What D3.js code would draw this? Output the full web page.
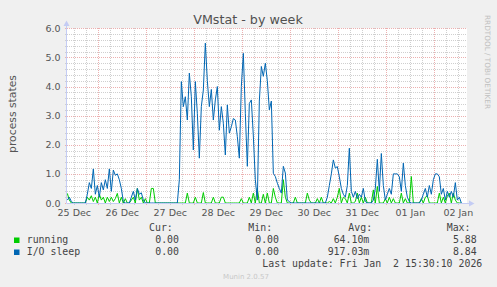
<!DOCTYPE html>
<html>
<head>
<meta charset="utf-8">
<script src="https://cdn.jsdelivr.net/npm/d3@7"></script>
<style>
  body { margin: 0; background: #f0f0f0; }
  text { font-family: "DejaVu Sans", sans-serif; }
  .mono { font-family: "DejaVu Sans Mono", monospace; white-space: pre; }
</style>
</head>
<body>
<div id="wrapper"></div>
<script>

// samples every hour, first one at Dec 25 08:30 (UTC)
const startTime = Date.UTC(2025, 11, 25, 8, 30)
const stepMs = 3600 * 1000

const running = [
  0.33,0.1,0,0,0,0,0,0,0,0,
  0.2,0.1,0.25,0.05,0.2,0,0.3,0.1,0.2,0,
  0.2,0.05,0.2,0.05,0.15,0.33,0,0.2,0,0.15,
  0,0,0.1,0.2,0,0.5,0.1,0.2,0,0.15,
  0,0,0.5,0.5,0,0,0,0,0,0,
  0,0,0,0,0,0,0,0,0,0,
  0.34,0,0,0,0.2,0,0,0,0.36,0,
  0,0,0,0.2,0,0,0,0.2,0.2,0,
  0,0,0,0,0,0,0,0.15,0,0,
  0,0.2,0,0.34,0,0.5,0,0,0.3,0,
  0.34,0,0,0.5,0.2,0,0,0,0.8,0.2,
  0,0,0,0,0.2,0,0,0,0,0,
  0.34,0.1,0,0,0,0.15,0,0.2,0,0,
  0,0.05,0,0.15,0,0.2,0.5,0,0.2,0.15,
  0,0.34,0,0,0.05,0.34,0,0.2,0,0.2,
  0,0,0,0.45,0,0.57,0,0,0,0.15,
  0,0.2,0,0.15,0,0,0,0.34,0,0.15,
  0,0,0.91,0,0,0,0,0.15,0,0.2,
  0.25,0,0,0,0,0,0.34,0,0.2,0,
  0.25,0.34,0,0.34,0.1,0,0,0
]

const ioSleep = [
  0.1,0.2,0.05,0,0,0,0,0,0,0,
  0.3,0.7,0.5,1.17,0.3,0.6,0.2,0.7,0.45,0.8,
  0.5,1.17,0.4,1.13,0.95,1.0,0.8,0.5,0.05,0,
  0,0,0.2,0.4,0.1,0.5,0.3,0.35,0.1,0,
  0,0,0,0,0,0,0,0,0,0,
  0,0,0,0,0,0,0.8,4.17,3.31,3.65,
  2.85,4.46,3.65,1.82,4.17,3.08,1.54,3.31,3.88,5.49,
  4.2,3.31,3.9,2.85,3.54,4.0,2.5,3.31,2.74,1.65,
  3.37,2.4,2.62,2.9,2.85,2.28,1.54,4.0,5.14,3.08,
  1.26,3.42,3.54,2.3,0.8,0.1,3.5,4.69,4.35,4.8,
  4.2,3.2,3.5,1.02,0.91,0.68,0.5,0.34,1.26,1.03,
  0.1,0.05,0,0,0,0,0,0,0,0,
  0,0,0,0,0,0,0,0,0,0,
  0.2,0.6,1.0,1.48,1.2,1.25,0.9,0.5,0.3,0.2,
  0.6,1.88,0.4,0.2,0.4,0.15,0.3,0.2,0.5,0.05,
  0,0,0,0.1,0.5,1.5,0.4,1.7,0.6,0.1,
  0.3,0.5,0.3,1.0,1.0,1.0,0.9,0.4,1.37,0.6,
  0.2,0.05,0,0,0,0,0,0.1,0.3,0.5,
  0.2,0.6,0.3,0.8,1.0,1.0,0.9,0.3,0.5,0.1,
  0.4,0.2,0.4,0.2,0.7,0.1,0.2,0
]

const yTicks = [0, 1, 2, 3, 4, 5, 6]
const seriesNames = ["running", "I/O sleep"]
const seriesColors = ["#00cc00", "#0066b3"]
const curValues = ["0.00", "0.00"]
const minValues = ["0.00", "0.00"]
const avgValues = ["64.10m", "917.03m"]
const maxValues = ["5.88", "8.84"]

function drawChart() {
    const dimensions = {
        width: 497,
        height: 287,
        left: 67,
        right: 467,
        top: 28.3,
        bottom: 203
    }

    const svg = d3.select("#wrapper")
        .append("svg")
        .attr("width", dimensions.width)
        .attr("height", dimensions.height)

    svg.append("rect")
        .attr("width", dimensions.width)
        .attr("height", dimensions.height)
        .attr("fill", "#f0f0f0")

    const xScale = d3.scaleUtc()
        .domain([new Date(Date.UTC(2025, 11, 25, 8, 20)), new Date(Date.UTC(2026, 0, 2, 16, 20))])
        .range([dimensions.left, dimensions.right])

    const yScale = d3.scaleLinear()
        .domain([0, 6])
        .range([dimensions.bottom, dimensions.top])

    svg.append("rect")
        .attr("x", dimensions.left)
        .attr("y", dimensions.top)
        .attr("width", dimensions.right - dimensions.left)
        .attr("height", dimensions.bottom - dimensions.top)
        .attr("fill", "#ffffff")

    const grid = svg.append("g").attr("shape-rendering", "crispEdges")

    // minor grid
    const minorY = d3.range(0, 6.01, 0.2).filter(v => Math.abs(v - Math.round(v)) > 0.01)
    grid.selectAll(".hminor").data(minorY).enter().append("line")
        .attr("x1", dimensions.left - 2).attr("x2", dimensions.right)
        .attr("y1", d => Math.round(yScale(d)) + 0.5).attr("y2", d => Math.round(yScale(d)) + 0.5)
        .attr("stroke", "#cfcfcf").attr("stroke-dasharray", "1,1")

    const minorX = xScale.ticks(d3.utcHour.every(6)).filter(d => d.getUTCHours() !== 0)
    grid.selectAll(".vminor").data(minorX).enter().append("line")
        .attr("x1", d => Math.round(xScale(d)) + 0.5).attr("x2", d => Math.round(xScale(d)) + 0.5)
        .attr("y1", dimensions.top).attr("y2", dimensions.bottom + 2)
        .attr("stroke", "#cfcfcf").attr("stroke-dasharray", "1,1")

    // major grid
    grid.selectAll(".hmajor").data(yTicks).enter().append("line")
        .attr("x1", dimensions.left - 2).attr("x2", dimensions.right)
        .attr("y1", d => Math.round(yScale(d)) + 0.5).attr("y2", d => Math.round(yScale(d)) + 0.5)
        .attr("stroke", "#ecb0b0").attr("stroke-dasharray", "1,1")

    const days = xScale.ticks(d3.utcDay.every(1))
    grid.selectAll(".vmajor").data(days).enter().append("line")
        .attr("x1", d => Math.round(xScale(d)) + 0.5).attr("x2", d => Math.round(xScale(d)) + 0.5)
        .attr("y1", dimensions.top).attr("y2", dimensions.bottom + 2)
        .attr("stroke", "#ecb0b0").attr("stroke-dasharray", "1,1")

    // lines
    const series = [running, ioSleep]
    const line = d3.line()
        .x((d, i) => xScale(new Date(startTime + i * stepMs)))
        .y(d => yScale(d))

    series.forEach((values, k) => {
        svg.append("path")
            .datum(values)
            .attr("d", line)
            .attr("fill", "none")
            .attr("stroke", seriesColors[k])
            .attr("stroke-width", 1)
            .attr("stroke-linejoin", "round")
    })

    // axes
    const axisColor = "#c4ccf4"
    svg.append("line")
        .attr("x1", dimensions.left - 0.5).attr("x2", dimensions.left - 0.5)
        .attr("y1", dimensions.bottom).attr("y2", 24)
        .attr("stroke", axisColor)
    svg.append("path")
        .attr("d", `M${dimensions.left - 3.5},26 L${dimensions.left - 0.5},20.5 L${dimensions.left + 2.5},26 Z`)
        .attr("fill", axisColor)
    svg.append("line")
        .attr("x1", dimensions.left - 0.5).attr("x2", 470)
        .attr("y1", dimensions.bottom + 0.5).attr("y2", dimensions.bottom + 0.5)
        .attr("stroke", axisColor)
    svg.append("path")
        .attr("d", `M469,${dimensions.bottom - 2.5} L474.5,${dimensions.bottom + 0.5} L469,${dimensions.bottom + 3.5} Z`)
        .attr("fill", axisColor)

    // tick labels
    svg.selectAll(".ylabel").data(yTicks).enter().append("text")
        .attr("x", 60.5)
        .attr("y", d => yScale(d) + 3.5)
        .attr("text-anchor", "end")
        .attr("font-size", "9.5px")
        .attr("fill", "#555")
        .text(d => d.toFixed(1))

    const dayFormat = d3.utcFormat("%d %b")
    svg.selectAll(".xlabel").data(days.map(d => d3.utcHour.offset(d, -12)).concat([d3.utcHour.offset(days[days.length - 1], 12)]))
        .enter().append("text")
        .attr("x", d => xScale(d))
        .attr("y", 216)
        .attr("text-anchor", "middle")
        .attr("font-size", "9.5px")
        .attr("fill", "#555")
        .text(d => dayFormat(d))

    // titles
    svg.append("text")
        .attr("x", 248).attr("y", 24)
        .attr("text-anchor", "middle")
        .attr("font-size", "12.7px")
        .attr("fill", "#505050")
        .text("VMstat - by week")

    svg.append("text")
        .attr("transform", "translate(16,114) rotate(-90)")
        .attr("text-anchor", "middle")
        .attr("font-size", "10.8px")
        .attr("fill", "#555")
        .text("process states")

    svg.append("text")
        .attr("transform", "translate(484.5,15) rotate(90)")
        .attr("font-size", "7.3px")
        .attr("fill", "#c0c0c0")
        .text("RRDTOOL / TOBI OETIKER")

    // legend
    const legend = svg.append("g").attr("font-size", "9.9px").attr("fill", "#444")
    const headers = [["Cur:", 149], ["Min:", 248.3], ["Avg:", 348.3], ["Max:", 446.7]]
    headers.forEach(h => {
        legend.append("text").attr("class", "mono").attr("x", h[1]).attr("y", 231).text(h[0])
    })

    seriesNames.forEach((name, k) => {
        const y = 243 + k * 12
        legend.append("rect")
            .attr("x", 14).attr("y", y - 5.5)
            .attr("width", 5.5).attr("height", 5.5)
            .attr("fill", seriesColors[k])
        legend.append("text").attr("class", "mono").attr("x", 26.7).attr("y", y).text(name)
        const cols = [[curValues[k], 179], [minValues[k], 279], [avgValues[k], 369.3], [maxValues[k], 476.7]]
        cols.forEach(c => {
            legend.append("text").attr("class", "mono")
                .attr("x", c[1]).attr("y", y)
                .attr("text-anchor", "end")
                .text(c[0])
        })
    })

    legend.append("text").attr("class", "mono")
        .attr("x", 482.3).attr("y", 267)
        .attr("text-anchor", "end")
        .text("Last update: Fri Jan  2 15:30:10 2026")

    svg.append("text")
        .attr("x", 246).attr("y", 279)
        .attr("text-anchor", "middle")
        .attr("font-size", "7px")
        .attr("fill", "#c8c8c8")
        .text("Munin 2.0.57")
}

drawChart();
</script>
</body>
</html>
